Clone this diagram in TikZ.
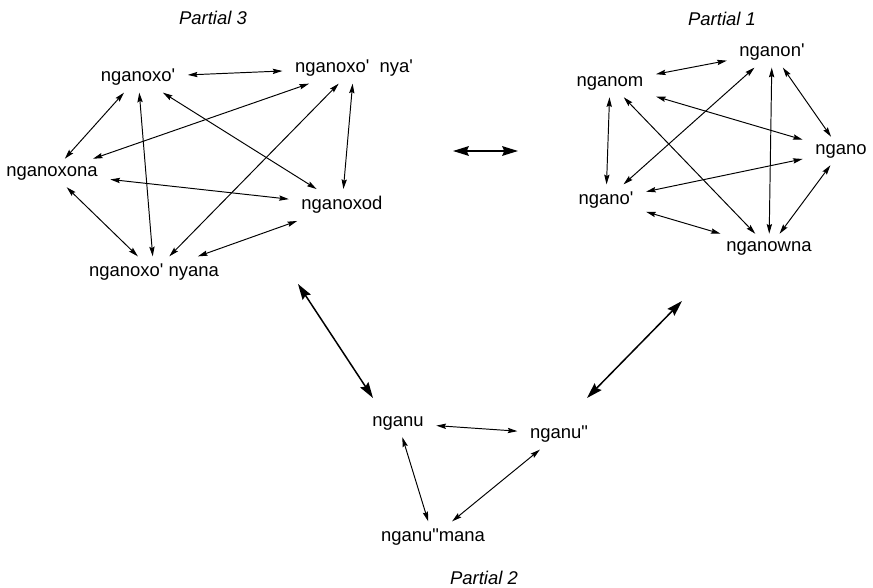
\documentclass[tikz,border=0pt]{standalone}
\usepackage{fontspec}
\newfontfamily\labfont{Liberation Sans}
\usetikzlibrary{arrows.meta}
\tikzset{
  word/.style={font=\labfont\fontsize{10.5}{12}\selectfont, inner xsep=7pt, inner ysep=4pt},
  title/.style={font=\labfont\itshape\fontsize{10.5}{12}\selectfont},
  link/.style={<->, >={Stealth[length=5.5pt,width=3pt,inset=0.8pt]}, line width=0.55pt},
  biglink/.style={<->, >={Stealth[length=9pt,width=5.5pt,inset=1.2pt]}, line width=0.85pt}
}
\begin{document}
\begin{tikzpicture}[x=0.02cm, y=-0.02cm]
        \useasboundingbox (0,0) rectangle (873,588);
        \node[title] (t3) at (213,18) {Partial 3};
        \node[title] (t1) at (722,19) {Partial 1};
        \node[title] (t2) at (484,578) {Partial 2};

        \node[word] (xo) at (138,77) {nganoxo'};
        \node[word] (xnya) at (354,68) {nganoxo'\ \ nya'};
        \node[word] (xona) at (52,173) {nganoxona};
        \node[word] (xod) at (342,205) {nganoxod};
        \node[word] (xnyana) at (154,272) {nganoxo' nyana};

        \draw[link] (xo) -- (xnya);
        \draw[link] (xo) -- (xona);
        \draw[link] (xo) -- (xnyana);
        \draw[link] (xo) -- (xod);
        \draw[link] (xnya) -- (xona);
        \draw[link] (xnya) -- (xnyana);
        \draw[link] (xnya) -- (xod);
        \draw[link] (xona) -- (xod);
        \draw[link] (xona) -- (xnyana);
        \draw[link] (xod) -- (xnyana);

        \node[word] (nn) at (772,52) {nganon'};
        \node[word] (nm) at (610,83) {nganom};
        \node[word] (no) at (841,151) {ngano};
        \node[word] (nq) at (606,200) {ngano'};
        \node[word] (nw) at (769,248) {nganowna};

        \draw[link] (nm) -- (nn);
        \draw[link] (nm) -- (nq);
        \draw[link] (nm) -- (no);
        \draw[link] (nm) -- (nw);
        \draw[link] (nn) -- (nq);
        \draw[link] (nn) -- (nw);
        \draw[link] (nn) -- (no);
        \draw[link] (no) -- (nq);
        \draw[link] (no) -- (nw);
        \draw[link] (nq) -- (nw);

        \node[word] (u) at (398,423) {nganu};
        \node[word] (uu) at (559,434) {nganu"};
        \node[word] (um) at (433,537) {nganu"mana};

        \draw[link] (u) -- (uu);
        \draw[link] (u) -- (um);
        \draw[link] (uu) -- (um);

        \coordinate (h1) at (453,151);
        \coordinate (h2) at (518,151);
        \coordinate (l1) at (298,284);
        \coordinate (l2) at (373,398);
        \coordinate (r1) at (682,301);
        \coordinate (r2) at (587,398);
        \draw[biglink] (h1) -- (h2);
        \draw[biglink] (l1) -- (l2);
        \draw[biglink] (r1) -- (r2);
    \end{tikzpicture}
\end{document}
